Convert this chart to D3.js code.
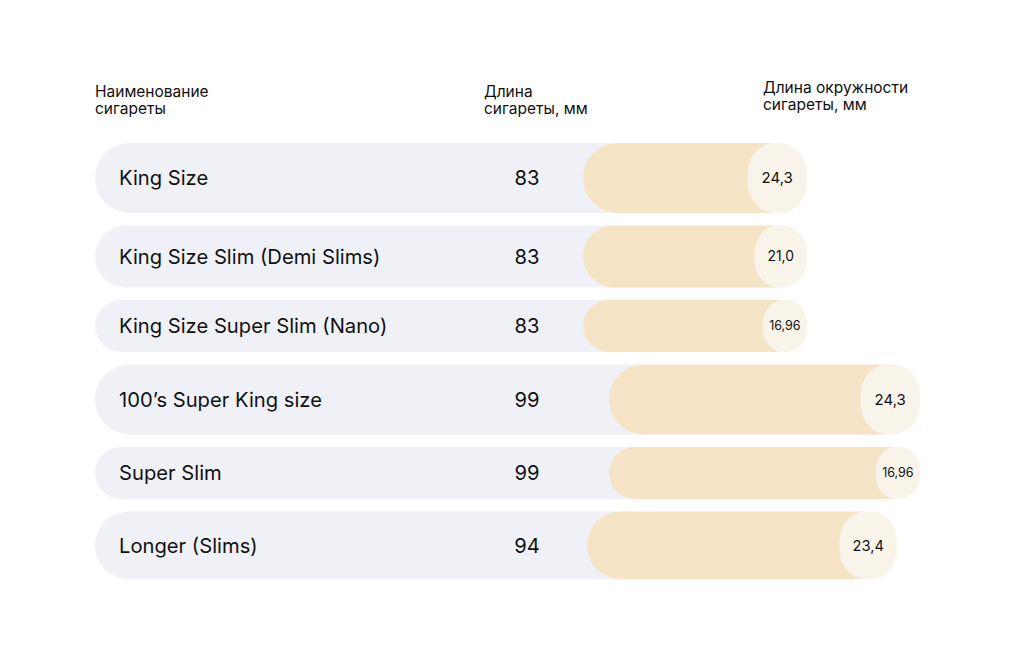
<!DOCTYPE html>
<html>
<head>
<meta charset="utf-8">
<script src="https://cdn.jsdelivr.net/npm/d3@7"></script>
<style>
  html, body { margin: 0; padding: 0; background: #ffffff; }
  svg { display: block; }
  text { font-family: Inter, "Noto Sans", sans-serif; fill: #111111; }
</style>
</head>
<body>
<svg id="chart" width="1024" height="670"></svg>
<script>
// ---- data ----
const names = [
  "King Size",
  "King Size Slim (Demi Slims)",
  "King Size Super Slim (Nano)",
  "100’s Super King size",
  "Super Slim",
  "Longer (Slims)"
];
const lengths = [83, 83, 83, 99, 99, 94];
const circumferences = [24.3, 21.0, 16.96, 24.3, 16.96, 23.4];
const circumferenceLabels = ["24,3", "21,0", "16,96", "24,3", "16,96", "23,4"];
const headerName = ["Наименование", "сигареты"];
const headerLength = ["Длина", "сигареты, мм"];
const headerCirc = ["Длина окружности", "сигареты, мм"];

// ---- layout ----
const svg = d3.select("#chart");
const left = 95, top0 = 143, gap = 12.5;

const hScale = d3.scaleLinear().domain([16.96, 24.3]).range([52, 70]);
const endScale = d3.scaleLinear().domain([83, 94, 99]).range([807, 897, 920]);
const startScale = d3.scaleLinear().domain([83, 94, 99]).range([583, 587, 609]);
const fontScale = d3.scaleLinear().domain([52, 70]).range([12.5, 15]);

const rows = names.map((n, i) => ({
  name: n, len: lengths[i], circ: circumferences[i], label: circumferenceLabels[i],
  h: hScale(circumferences[i])
}));
let y = top0;
rows.forEach(r => { r.y = y; y += r.h + gap; });

// headers
function header(lines, x, y0) {
  const t = svg.append("text").attr("x", x).attr("y", y0).style("font-size", "15.5px");
  lines.forEach((l, i) => t.append("tspan").attr("x", x).attr("dy", i ? 17 : 0).text(l));
}
header(headerName, 95, 97);
header(headerLength, 484, 97);
header(headerCirc, 763, 93);

const g = svg.selectAll("g.row").data(rows).join("g").attr("class", "row")
  .attr("transform", d => `translate(0,${d.y})`);

// gray background pill
g.append("rect")
  .attr("x", left)
  .attr("y", 0)
  .attr("width", d => startScale(d.len) + d.h - left)
  .attr("height", d => d.h)
  .attr("rx", d => d.h / 2)
  .attr("fill", "#f0f1f7");

// beige length bar
g.append("rect")
  .attr("x", d => startScale(d.len))
  .attr("y", 0)
  .attr("width", d => endScale(d.len) - startScale(d.len))
  .attr("height", d => d.h)
  .attr("rx", d => d.h / 2)
  .attr("fill", "#f5e4c5");

// cap
g.append("rect")
  .attr("x", d => endScale(d.len) - d.h * 0.85)
  .attr("y", 0)
  .attr("width", d => d.h * 0.85)
  .attr("height", d => d.h)
  .attr("rx", d => d.h * 0.85 * 0.45)
  .attr("ry", d => d.h * 0.45)
  .attr("fill", "#f9f4e9");

// name
g.append("text")
  .attr("x", 119)
  .attr("y", d => d.h / 2)
  .attr("dy", "0.36em")
  .style("font-size", "20.2px")
  .text(d => d.name);

// length value
g.append("text")
  .attr("x", 527)
  .attr("y", d => d.h / 2)
  .attr("dy", "0.36em")
  .attr("text-anchor", "middle")
  .style("font-size", "20.2px")
  .text(d => d.len);

// circumference label
g.append("text")
  .attr("x", d => endScale(d.len) - d.h * 0.85 / 2)
  .attr("y", d => d.h / 2)
  .attr("dy", "0.36em")
  .attr("text-anchor", "middle")
  .style("font-size", d => fontScale(d.h) + "px")
  .text(d => d.label);
</script>
</body>
</html>
